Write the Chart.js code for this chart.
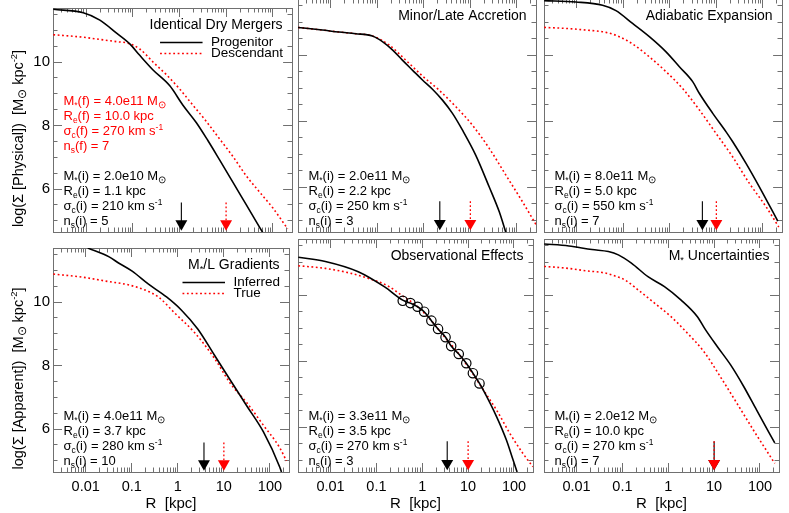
<!DOCTYPE html>
<html>
<head>
<meta charset="utf-8">
<title>Surface density profiles</title>
<script src="https://cdn.jsdelivr.net/npm/chart.js"></script>
<style>
html, body { margin:0; padding:0; background:#ffffff; }
#wrap { position:relative; width:789px; height:513px; overflow:hidden; background:#ffffff; }
#wrap canvas { position:absolute; }
</style>
</head>
<body>
<div id="wrap"></div>
<script>
// ---------------- DATA ----------------
const panelTitles = ['Identical Dry Mergers', 'Minor/Late Accretion', 'Adiabatic Expansion',
                     'M_{*}/L Gradients', 'Observational Effects', 'M_{*} Uncertainties'];
const legendLabels = [['Progenitor', 'Descendant'], null, null, ['Inferred', 'True'], null, null];
const yTitles = ['log(Σ [Physical])  [M_{⊙} kpc^{-2}]', 'log(Σ [Apparent])  [M_{⊙} kpc^{-2}]'];
const xTitle = 'R  [kpc]';

const xMin = 0.00195, xMax = 260;
const yMin = 4.65, yMax = 11.70;
const xLabelValues = [0.01, 0.1, 1, 10, 100];
const yLabelValues = [6, 8, 10];

// galaxy parameters (initial) for each panel
const initMass  = ['2.0e10', '2.0e11', '8.0e11', '4.0e11', '3.3e11', '2.0e12'];
const initRe    = [1.1, 2.2, 5.0, 3.7, 3.5, 10.0];
const initSigma = [210, 250, 550, 280, 270, 270];
const initN     = [5, 3, 7, 10, 3, 7];
// final (descendant) parameters
const finalMass = '4.0e11', finalRe = 10.0, finalSigma = 270, finalN = 7;
// arrow extent (log Sigma)
const arrowTopS = 5.58, arrowHeadS = 4.91;

// Identical Dry Mergers
const mergersProgR = [0.00198, 0.00867, 0.0197, 0.0449, 0.0863, 0.141, 0.272, 0.622, 1.19, 2.31, 4.07, 7.26, 13.96, 27.0, 61.2];
const mergersProgS = [11.66, 11.55, 11.32, 10.91, 10.57, 10.21, 9.75, 9.25, 8.64, 8.09, 7.53, 6.92, 6.22, 5.51, 4.63];
const mergersDescR = [0.00198, 0.00867, 0.0197, 0.0449, 0.0794, 0.141, 0.272, 0.526, 1.01, 1.95, 3.77, 7.26, 13.96, 27.0, 52.0, 100, 209];
const mergersDescS = [10.86, 10.78, 10.71, 10.64, 10.59, 10.41, 10.00, 9.60, 9.15, 8.64, 8.13, 7.58, 7.03, 6.42, 5.91, 5.41, 4.75];
// Minor/Late Accretion
const accretionProgR = [0.00195, 0.00652, 0.0149, 0.0341, 0.0778, 0.128, 0.21, 0.344, 0.566, 0.931, 1.53, 2.51, 4.12, 6.78, 13.1, 25.5, 41.9, 58.2];
const accretionProgS = [10.84, 10.76, 10.70, 10.65, 10.58, 10.41, 10.16, 9.85, 9.55, 9.25, 8.97, 8.64, 8.24, 7.73, 6.97, 6.01, 5.26, 4.63];
const accretionDescR = [0.00195, 0.00652, 0.0149, 0.0341, 0.0778, 0.178, 0.407, 0.931, 2.13, 4.88, 11.1, 25.5, 58.2, 133, 258];
const accretionDescS = [10.84, 10.76, 10.70, 10.65, 10.58, 10.31, 9.85, 9.37, 8.94, 8.44, 7.88, 7.18, 6.37, 5.56, 4.88];
// Adiabatic Expansion
const adiabaticProgR = [0.00197, 0.00948, 0.0355, 0.069, 0.157, 0.361, 0.826, 1.6, 3.09, 4.32, 8.36, 16.2, 22.5, 43.8, 84.7, 210];
const adiabaticProgS = [11.65, 11.61, 11.51, 11.35, 10.96, 10.56, 10.10, 9.65, 9.20, 8.84, 8.24, 7.68, 7.38, 6.72, 6.01, 4.98];
const adiabaticDescR = [0.00197, 0.00578, 0.0156, 0.0421, 0.0815, 0.157, 0.361, 0.826, 1.88, 4.32, 9.89, 22.5, 51.5, 118, 221];
const adiabaticDescS = [10.84, 10.81, 10.76, 10.69, 10.56, 10.34, 9.95, 9.50, 8.99, 8.34, 7.63, 6.92, 6.12, 5.41, 4.80];
// M*/L Gradients
const gradientsInfR  = [0.0111, 0.0323, 0.0528, 0.102, 0.231, 0.569, 1.19, 2.71, 6.17, 13.96, 31.8, 72.3, 164, 178];
const gradientsInfS  = [11.70, 11.42, 11.22, 10.97, 10.56, 10.16, 9.75, 9.15, 8.34, 7.53, 6.72, 5.91, 4.80, 4.65];
const gradientsTrueR = [0.00198, 0.00867, 0.0323, 0.0735, 0.141, 0.232, 0.378, 0.861, 2.30, 6.17, 13.96, 31.8, 72.3, 164, 228];
const gradientsTrueS = [10.88, 10.78, 10.64, 10.56, 10.45, 10.33, 10.16, 9.65, 9.04, 8.24, 7.43, 6.82, 6.12, 5.41, 5.00];
// Observational Effects
const obsModelR = [0.00198, 0.0077, 0.0402, 0.151, 0.375, 0.55, 0.79, 1.10, 1.58, 2.21, 3.22, 4.27, 6.25, 9.12, 12.7, 17.7, 21.6, 41.9, 68.7, 95.7, 117];
const obsModelS = [11.15, 11.02, 10.71, 10.25, 9.85, 9.76, 9.65, 9.50, 9.23, 8.98, 8.73, 8.46, 8.22, 7.94, 7.64, 7.33, 7.12, 6.32, 5.61, 5.01, 4.65];
const obsTrueR  = [0.00198, 0.0077, 0.0245, 0.0661, 0.178, 0.345, 0.791, 1.53, 2.97, 5.75, 11.1, 21.6, 41.9, 81.1, 157, 258];
const obsTrueS  = [10.89, 10.81, 10.68, 10.51, 10.28, 10.01, 9.65, 9.25, 8.76, 8.29, 7.74, 7.13, 6.52, 5.82, 5.21, 4.81];
const obsPointR = [0.375, 0.55, 0.79, 1.10, 1.58, 2.21, 3.22, 4.27, 6.25, 9.12, 12.7, 17.7];
const obsPointS = [9.83, 9.76, 9.65, 9.50, 9.23, 8.98, 8.73, 8.46, 8.22, 7.94, 7.64, 7.33];
// M* Uncertainties
const massInfR  = [0.00197, 0.0068, 0.0217, 0.0495, 0.0815, 0.157, 0.361, 0.826, 1.88, 4.32, 6.52, 11.8, 22.9, 44.5, 84.7, 210];
const massInfS  = [11.55, 11.49, 11.38, 11.32, 11.22, 10.97, 10.56, 10.26, 9.86, 9.35, 8.95, 8.44, 7.89, 7.23, 6.52, 5.53];
const massTrueR = [0.00197, 0.00578, 0.0156, 0.0421, 0.069, 0.1135, 0.22, 0.502, 1.15, 2.62, 6.01, 13.7, 31.4, 71.8, 210];
const massTrueS = [10.87, 10.82, 10.74, 10.67, 10.58, 10.46, 10.16, 9.76, 9.35, 8.85, 8.29, 7.53, 6.73, 5.92, 4.91];

// ---------------- STYLE / LAYOUT ----------------
const FONT = "'Liberation Sans', Arial, Helvetica, sans-serif";
const AXIS = '#707070';
const RED = '#ff0000';
const BLACK = '#000000';
const colL = [53, 298, 544], colR = [293, 537, 783];
const rowT = [-1, 239], rowB = [232, 472];
const PAD = { l: 53, r: 6, t: 12, b: 46 };

const panelCurves = [
  [mergersProgR, mergersProgS, mergersDescR, mergersDescS],
  [accretionProgR, accretionProgS, accretionDescR, accretionDescS],
  [adiabaticProgR, adiabaticProgS, adiabaticDescR, adiabaticDescS],
  [gradientsInfR, gradientsInfS, gradientsTrueR, gradientsTrueS],
  [obsModelR, obsModelS, obsTrueR, obsTrueS],
  [massInfR, massInfS, massTrueR, massTrueS]
];

// tick positions
const xTickValues = [];
for (let e = -3; e <= 2; e++) for (let m = 1; m <= 9; m++) {
  const v = +(m * Math.pow(10, e)).toPrecision(4);
  if (v > xMin && v < xMax) xTickValues.push(v);
}
const yTickValues = [];
for (let k = 0; 5 + 0.5 * k <= 11.5; k++) yTickValues.push(5 + 0.5 * k);

const isMajorX = v => Math.abs(Math.log10(v) - Math.round(Math.log10(v))) < 1e-9;
const isMajorY = v => yLabelValues.indexOf(v) >= 0;

// ---------------- RICH TEXT ----------------
function parseRich(str) {
  const segs = []; const re = /([_^])\{([^}]*)\}/g; let last = 0, m;
  while ((m = re.exec(str))) {
    if (m.index > last) segs.push([str.slice(last, m.index), 0]);
    segs.push([m[2], m[1] === '_' ? 1 : 2]);
    last = re.lastIndex;
  }
  if (last < str.length) segs.push([str.slice(last), 0]);
  return segs;
}
function segSize(t, k, size) { return k ? size * (t === '⊙' ? 0.8 : 0.65) : size; }
function drawRich(ctx, str, x, y, size, color, align) {
  const segs = parseRich(str);
  let w = 0;
  for (const [t, k] of segs) { ctx.font = segSize(t, k, size) + 'px ' + FONT; w += ctx.measureText(t).width; }
  let cx = align === 'right' ? x - w : (align === 'center' ? x - w / 2 : x);
  const base = y + size * 0.36;
  ctx.fillStyle = color; ctx.textAlign = 'left'; ctx.textBaseline = 'alphabetic';
  for (const [t, k] of segs) {
    ctx.font = segSize(t, k, size) + 'px ' + FONT;
    const b = k === 1 ? base + size * 0.24 : (k === 2 ? base - size * 0.42 : base);
    ctx.fillText(t, cx, b);
    cx += ctx.measureText(t).width;
  }
  return w;
}

// ---------------- DECORATION PLUGIN ----------------
const decor = {
  id: 'decor',
  afterDatasetsDraw(chart) {
    const i = chart.options.plugins.decor.panel;
    const ctx = chart.ctx, ca = chart.chartArea;
    ctx.save();
    // panel title
    drawRich(ctx, panelTitles[i], ca.right - 9.5, ca.top + 16, 14, BLACK, 'right');
    // legend
    const lg = legendLabels[i];
    if (lg) {
      ctx.font = '13.5px ' + FONT;
      const mw = Math.max.apply(null, lg.map(t => ctx.measureText(t).width));
      const x0 = ca.right - 9 - mw;
      lg.forEach((t, j) => {
        const ds = chart.data.datasets.find(d => d.label === (j ? 'red' : 'black'));
        const y = ca.top + 34.5 + 11 * j;
        ctx.beginPath();
        ctx.strokeStyle = ds.borderColor; ctx.lineWidth = ds.borderWidth;
        ctx.setLineDash(ds.borderDash || []);
        ctx.moveTo(x0 - 51, y); ctx.lineTo(x0 - 8.5, y); ctx.stroke();
        ctx.setLineDash([]);
        drawRich(ctx, t, x0, y - 1, 13.5, BLACK, 'left');
      });
    }
    // annotation lines
    const notes = [];
    if (i === 0) {
      notes.push([`M_{*}(f) = ${finalMass} M_{⊙}`, 8, RED],
                 [`R_{e}(f) = ${finalRe.toFixed(1)} kpc`, 7, RED],
                 [`σ_{c}(f) = ${finalSigma} km s^{-1}`, 6, RED],
                 [`n_{s}(f) = ${finalN}`, 5, RED]);
    }
    notes.push([`M_{*}(i) = ${initMass[i]} M_{⊙}`, 3, BLACK],
               [`R_{e}(i) = ${initRe[i].toFixed(1)} kpc`, 2, BLACK],
               [`σ_{c}(i) = ${initSigma[i]} km s^{-1}`, 1, BLACK],
               [`n_{s}(i) = ${initN[i]}`, 0, BLACK]);
    for (const [t, idx, col] of notes) {
      drawRich(ctx, t, ca.left + 10.5, ca.bottom - 11.7 - 15 * idx, 13, col, 'left');
    }
    // y axis title
    if (i % 3 === 0) {
      ctx.save();
      ctx.translate(ca.left - 35.5, ca.top + 130.5);
      ctx.rotate(-Math.PI / 2);
      drawRich(ctx, yTitles[Math.floor(i / 3)], 0, 0, 14.5, BLACK, 'center');
      ctx.restore();
    }
    ctx.restore();
  }
};

// ---------------- CHART BUILD ----------------
function pts(R, S) { return R.map((r, k) => ({ x: r, y: S[k] })); }

function datasetsFor(i) {
  const [bR, bS, rR, rS] = panelCurves[i];
  const ds = [];
  if (i === 4) {
    ds.push({ label: 'points', data: pts(obsPointR, obsPointS), showLine: false,
      pointStyle: 'circle', pointRadius: 4.7, pointBorderWidth: 1.2, pointBorderColor: BLACK,
      pointBackgroundColor: 'rgba(0,0,0,0)', order: 0 });
  }
  ds.push({ label: 'redHead', data: [{ x: finalRe, y: arrowHeadS }], showLine: false,
    pointStyle: 'triangle', pointRotation: 180, pointRadius: 6.9, pointBorderWidth: 0,
    pointBackgroundColor: RED, pointBorderColor: RED, order: 1 });
  ds.push({ label: 'redShaft', data: [{ x: finalRe, y: arrowTopS }, { x: finalRe, y: arrowHeadS + 0.05 }],
    borderColor: RED, borderWidth: 1.3, borderDash: [1.8, 2.2], pointRadius: 0, order: 2 });
  ds.push({ label: 'blackHead', data: [{ x: initRe[i], y: arrowHeadS }], showLine: false,
    pointStyle: 'triangle', pointRotation: 180, pointRadius: 6.9, pointBorderWidth: 0,
    pointBackgroundColor: BLACK, pointBorderColor: BLACK, order: 3 });
  ds.push({ label: 'blackShaft', data: [{ x: initRe[i], y: arrowTopS }, { x: initRe[i], y: arrowHeadS + 0.05 }],
    borderColor: BLACK, borderWidth: 1.1, pointRadius: 0, order: 4 });
  ds.push({ label: 'black', data: pts(bR, bS), borderColor: BLACK, borderWidth: 1.6,
    pointRadius: 0, cubicInterpolationMode: 'monotone', fill: false, order: 5 });
  ds.push({ label: 'red', data: pts(rR, rS), borderColor: RED, borderWidth: 1.6, borderDash: [1.8, 2.6],
    pointRadius: 0, cubicInterpolationMode: 'monotone', fill: false, order: 6 });
  return ds;
}

function gridCfg(major, startsAtBorder) {
  return {
    drawOnChartArea: false, drawTicks: true, tickLength: -9, tickWidth: 1, tickColor: AXIS,
    tickBorderDash: c => (c.tick && major(c.tick.value)) ? [] : (startsAtBorder ? [5.5, 40] : [0, 4.5, 4.5, 40])
  };
}
const setX = s => { s.ticks = xTickValues.map(v => ({ value: v })); };
const setY = s => { s.ticks = yTickValues.map(v => ({ value: v })); };

const wrap = document.getElementById('wrap');
for (let i = 0; i < 6; i++) {
  const col = i % 3, row = Math.floor(i / 3);
  const L = colL[col], R = colR[col], T = rowT[row], B = rowB[row];
  const W = (R - L) + PAD.l + PAD.r, H = (B - T) + PAD.t + PAD.b;
  const cv = document.createElement('canvas');
  cv.width = W; cv.height = H;
  cv.style.left = (L - PAD.l) + 'px'; cv.style.top = (T - PAD.t) + 'px';
  cv.style.width = W + 'px'; cv.style.height = H + 'px';
  wrap.appendChild(cv);
  const bottomRow = row === 1, leftCol = col === 0;
  new Chart(cv.getContext('2d'), {
    type: 'line',
    data: { datasets: datasetsFor(i) },
    plugins: [decor],
    options: {
      responsive: false, maintainAspectRatio: false, animation: false, devicePixelRatio: 1,
      events: [],
      layout: { padding: 0 },
      plugins: { legend: { display: false }, tooltip: { enabled: false }, title: { display: false },
                 decor: { panel: i } },
      scales: {
        x: {
          type: 'logarithmic', position: 'bottom', min: xMin, max: xMax, bounds: 'data', offset: false,
          afterBuildTicks: setX, afterFit: s => { s.height = PAD.b; },
          grid: gridCfg(isMajorX, true),
          border: { display: true, color: AXIS, width: 1 },
          ticks: { display: bottomRow, autoSkip: false, maxRotation: 0, minRotation: 0, padding: 15,
                   color: BLACK, font: { family: FONT, size: 14.5 },
                   callback: v => (isMajorX(v) && xLabelValues.some(l => Math.abs(l - v) / l < 1e-6)) ? String(v) : '' },
          title: { display: bottomRow, text: xTitle, color: BLACK, font: { family: FONT, size: 15 },
                   padding: { top: 0, bottom: 5 } }
        },
        x2: {
          type: 'logarithmic', position: 'top', min: xMin, max: xMax, bounds: 'data', offset: false,
          afterBuildTicks: setX, afterFit: s => { s.height = PAD.t; },
          grid: gridCfg(isMajorX, false),
          border: { display: true, color: AXIS, width: 1 },
          ticks: { display: false, autoSkip: false, maxRotation: 0, minRotation: 0 }
        },
        y: {
          type: 'linear', position: 'left', min: yMin, max: yMax, bounds: 'data',
          afterBuildTicks: setY, afterFit: s => { s.width = PAD.l; },
          grid: gridCfg(isMajorY, false),
          border: { display: true, color: AXIS, width: 1 },
          ticks: { display: leftCol, autoSkip: false, padding: 12, color: BLACK,
                   font: { family: FONT, size: 15 },
                   callback: v => isMajorY(v) ? String(v) : '' }
        },
        y2: {
          type: 'linear', position: 'right', min: yMin, max: yMax, bounds: 'data',
          afterBuildTicks: setY, afterFit: s => { s.width = PAD.r; },
          grid: gridCfg(isMajorY, true),
          border: { display: true, color: AXIS, width: 1 },
          ticks: { display: false, autoSkip: false }
        }
      }
    }
  });
}
</script>
</body>
</html>
